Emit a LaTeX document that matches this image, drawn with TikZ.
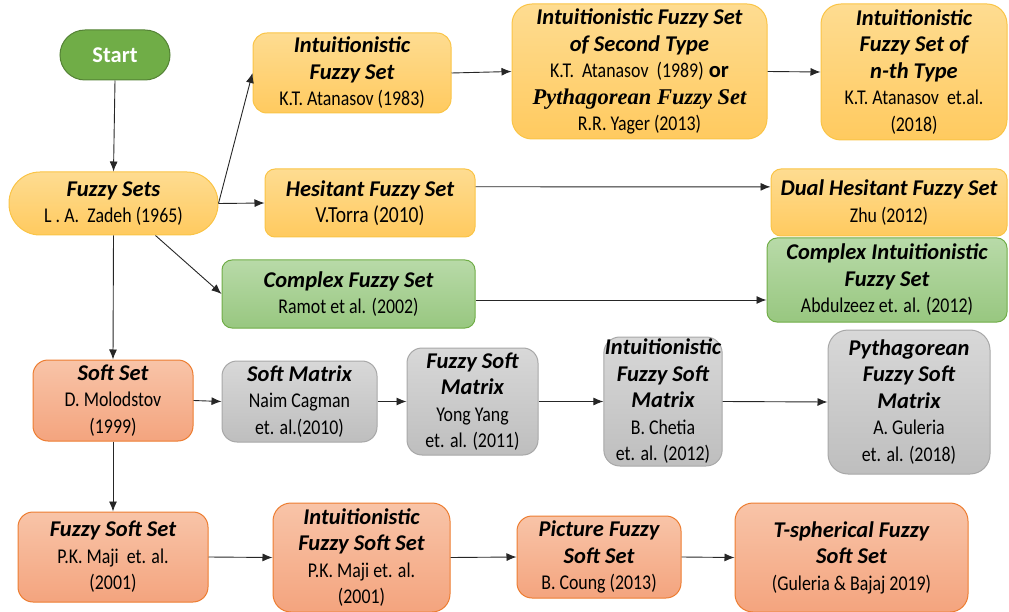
\documentclass[tikz,border=0pt]{standalone}
\usepackage{fontspec}
\setmainfont{Carlito}
\newfontfamily\condfont[FakeStretch=0.85]{Carlito}
\newfontfamily\serifbi{Liberation Serif}
\usetikzlibrary{arrows.meta,calc}

\definecolor{ylwline}{RGB}{250,196,70}
\definecolor{ylwtop}{RGB}{254,220,145}
\definecolor{ylwbot}{RGB}{255,202,95}
\definecolor{grnline}{RGB}{112,173,71}
\definecolor{grntop}{RGB}{184,218,168}
\definecolor{grnbot}{RGB}{152,199,128}
\definecolor{orgline}{RGB}{237,125,49}
\definecolor{orgtop}{RGB}{248,196,168}
\definecolor{orgbot}{RGB}{244,164,126}
\definecolor{gryline}{RGB}{168,168,168}
\definecolor{grytop}{RGB}{216,216,216}
\definecolor{grybot}{RGB}{190,190,190}
\definecolor{startfill}{RGB}{112,173,71}
\definecolor{startline}{RGB}{84,130,53}

\newcommand\boxtitle[1]{{\bfseries\itshape #1}}
\newcommand\boxsub[1]{{\condfont\fontsize{21}{26.5}\selectfont #1}}

\tikzset{
  box/.style={line width=1pt, rounded corners=#1, inner sep=1pt, align=center,
    font=\fontsize{22.5}{26.5}\selectfont},
  box/.default=15pt,
  ybox/.style={box=#1, draw=ylwline, top color=ylwtop, bottom color=ylwbot},
  ybox/.default=15pt,
  gbox/.style={box=#1, draw=grnline, top color=grntop, bottom color=grnbot},
  gbox/.default=12pt,
  obox/.style={box=#1, draw=orgline, top color=orgtop, bottom color=orgbot},
  obox/.default=15pt,
  sbox/.style={box=#1, draw=gryline, top color=grytop, bottom color=grybot},
  sbox/.default=15pt,
  arr/.style={draw=black!85, line width=0.9pt, -{Latex[length=10pt,width=8pt]}},
}

\begin{document}
\begin{tikzpicture}[x=1pt,y=-1pt]
\useasboundingbox (0,0) rectangle (1009,612);

% start and root
\node[box=25pt, fill=startfill, draw=startline, text=white,
      minimum width=110pt, minimum height=50pt] (start) at (115,55) {\bfseries Start};
\node[ybox=31pt, minimum width=209pt, minimum height=63pt] (fuzzy) at (113.5,203.5)
  {\boxtitle{Fuzzy Sets}\\ \boxsub{L . A.~ Zadeh (1965)}};

% intuitionistic branch
\node[ybox=14pt, minimum width=198pt, minimum height=80pt] (ifs) at (352,73)
  {\boxtitle{Intuitionistic}\\ \boxtitle{Fuzzy Set}\\ \boxsub{K.T. Atanasov (1983)}};
\node[ybox=20pt, minimum width=255pt, minimum height=135pt] (ifs2) at (639.5,71.5)
  {\boxtitle{Intuitionistic Fuzzy Set}\\ \boxtitle{of Second Type}\\
   \boxsub{K.T.~ Atanasov~ (1989)} {\bfseries or}\\
   {\serifbi\bfseries\itshape Pythagorean Fuzzy Set}\\ \boxsub{R.R. Yager (2013)}};
\node[ybox=20pt, minimum width=186pt, minimum height=136pt] (nth) at (914,72)
  {\boxtitle{Intuitionistic}\\ \boxtitle{Fuzzy Set of}\\ \boxtitle{n-th Type}\\
   \boxsub{K.T. Atanasov~ et.al.}\\ \boxsub{(2018)}};

% hesitant branch
\node[ybox=10pt, minimum width=210pt, minimum height=68pt] (hes) at (370,203)
  {\boxtitle{Hesitant Fuzzy Set}\\ {\condfont\fontsize{23}{26.5}\selectfont V.Torra (2010)}};
\node[ybox=10pt, minimum width=236pt, minimum height=67pt] (dual) at (889,202.5)
  {\boxtitle{Dual Hesitant Fuzzy Set}\\ \boxsub{Zhu (2012)}};

% complex branch
\node[gbox=10pt, minimum width=253pt, minimum height=68pt] (cfs) at (348.5,294)
  {\boxtitle{Complex Fuzzy Set}\\ \boxsub{Ramot et al. (2002)}};
\node[gbox=10pt, minimum width=240pt, minimum height=84pt] (cifs) at (887,280)
  {\boxtitle{Complex Intuitionistic}\\ \boxtitle{Fuzzy Set}\\ \boxsub{Abdulzeez et. al. (2012)}};

% soft set row
\node[obox=15pt, minimum width=160pt, minimum height=81pt] (soft) at (113,400.5)
  {\boxtitle{Soft Set}\\ \boxsub{D. Molodstov}\\ \boxsub{(1999)}};
\node[sbox=15pt, minimum width=155pt, minimum height=81pt] (sm) at (299.5,401.5)
  {\boxtitle{Soft Matrix}\\ \boxsub{Naim Cagman}\\ \boxsub{et. al.(2010)}};
\node[sbox=15pt, minimum width=131pt, minimum height=107pt] (fsm) at (472.5,401.5)
  {\boxtitle{Fuzzy Soft}\\ \boxtitle{Matrix}\\ \boxsub{Yong Yang}\\ \boxsub{et. al. (2011)}};
\node[sbox=16pt, minimum width=110pt, minimum height=129pt] (ifsm) at (663,401.5)
  {\boxtitle{Intuitionistic}\\ \boxtitle{Fuzzy Soft}\\ \boxtitle{Matrix}\\
   \boxsub{B. Chetia}\\ \boxsub{et. al. (2012)}};
\node[sbox=20pt, minimum width=162pt, minimum height=144pt] (pfsm) at (909,402)
  {\boxtitle{Pythagorean}\\ \boxtitle{Fuzzy Soft}\\ \boxtitle{Matrix}\\
   \boxsub{A. Guleria}\\ \boxsub{et. al. (2018)}};

% fuzzy soft set row
\node[obox=15pt, minimum width=190pt, minimum height=90pt] (fss) at (113,557)
  {\boxtitle{Fuzzy Soft Set}\\ \boxsub{P.K. Maji~ et. al.}\\ \boxsub{(2001)}};
\node[obox=18pt, minimum width=177pt, minimum height=109pt] (ifss) at (361.5,557.5)
  {\boxtitle{Intuitionistic}\\ \boxtitle{Fuzzy Soft Set}\\ \boxsub{P.K. Maji et. al.}\\ \boxsub{(2001)}};
\node[obox=15pt, minimum width=164pt, minimum height=82pt] (pic) at (599,557)
  {\boxtitle{Picture Fuzzy}\\ \boxtitle{Soft Set}\\ \boxsub{B. Coung (2013)}};
\node[obox=18pt, minimum width=233pt, minimum height=109pt] (tsph) at (851.5,557.5)
  {\boxtitle{T-spherical Fuzzy}\\ \boxtitle{Soft Set}\\ \boxsub{(Guleria \& Bajaj 2019)}};

% connectors
\draw[arr] (start.south) -- (fuzzy.north);
\draw[arr] (fuzzy.east) -- (ifs.west);
\draw[arr] (fuzzy.east) -- (hes.west);
\draw[arr] ($(fuzzy.south)+(42,0)$) -- (cfs.west);
\draw[arr] (fuzzy.south) -- (soft.north);

\draw[arr] (ifs.east) -- (ifs2.west);
\draw[arr] (ifs2.east) -- (nth.west);
\draw[arr] ($(hes.north east)!0.265!(hes.south east)$) -- ($(dual.north west)!0.27!(dual.south west)$);
\draw[arr] ($(cfs.east)+(0,6)$) coordinate (cfsout) -- (cfsout -| cifs.west);

\draw[arr] (soft.east) -- (sm.west);
\draw[arr] (sm.east) -- (fsm.west);
\draw[arr] (fsm.east) -- (ifsm.west);
\draw[arr] (ifsm.east) -- (pfsm.west);

\draw[arr] (soft.south) -- (fss.north);
\draw[arr] (fss.east) -- (ifss.west);
\draw[arr] (ifss.east) -- (pic.west);
\draw[arr] (pic.east) -- (tsph.west);
\end{tikzpicture}
\end{document}
